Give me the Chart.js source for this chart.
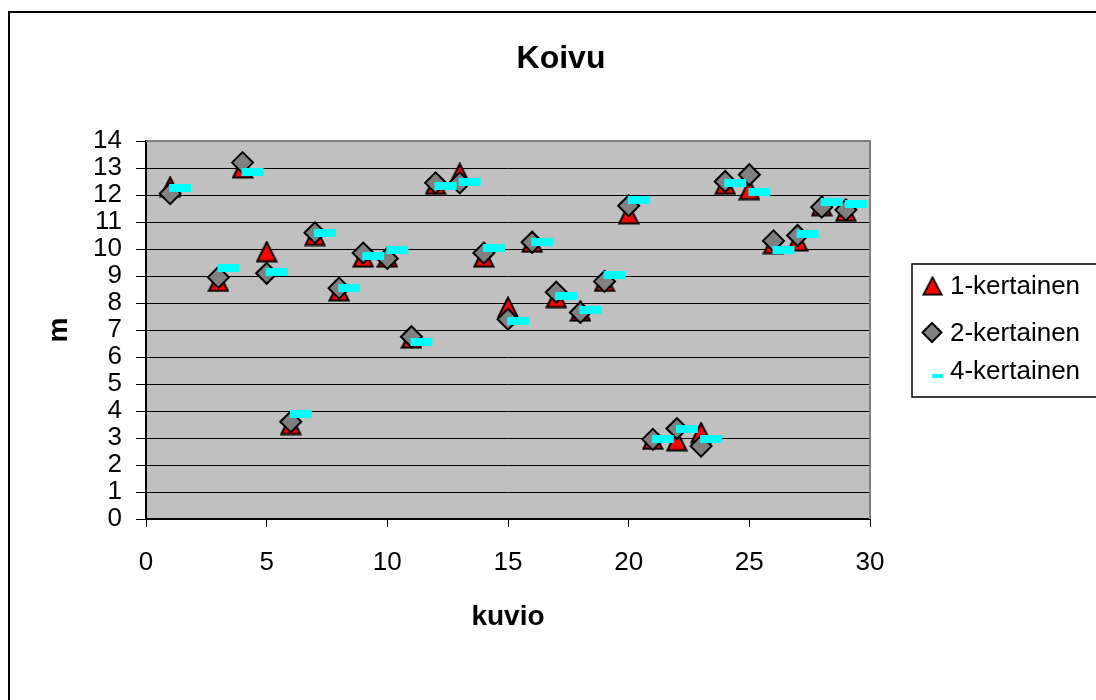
<!DOCTYPE html>
<html>
<head>
<meta charset="utf-8">
<title>Koivu</title>
<script src="https://cdn.jsdelivr.net/npm/chart.js@4.4.1/dist/chart.umd.min.js"></script>
<style>
  body { margin: 0; background: #fff; }
  #wrap { position: relative; width: 1096px; height: 700px; }
</style>
</head>
<body>
<div id="wrap"><canvas id="koivu"></canvas></div>
<script>
// kuvio numbers (x) and heights in metres per series
var kuvio = [1, 3, 4, 5, 6, 7, 8, 9, 10, 11, 12, 13, 14, 15, 16, 17, 18, 19, 20, 21, 22, 23, 24, 25, 26, 27, 28, 29];
var kertainen1 = [12.3, 8.8, 13.0, 9.9, 3.5, 10.5, 8.45, 9.7, 9.7, 6.7, 12.4, 12.8, 9.7, 7.85, 10.25, 8.2, 7.7, 8.8, 11.3, 2.95, 2.9, 3.2, 12.4, 12.2, 10.2, 10.3, 11.6, 11.4];
var kertainen2 = [12.05, 8.95, 13.2, 9.1, 3.6, 10.6, 8.55, 9.85, 9.65, 6.75, 12.45, 12.45, 9.85, 7.4, 10.25, 8.4, 7.65, 8.8, 11.6, 2.95, 3.35, 2.7, 12.5, 12.75, 10.3, 10.5, 11.55, 11.45];
var kertainen4 = [12.25, 9.3, 12.85, 9.15, 3.9, 10.6, 8.55, 9.75, 9.95, 6.55, 12.35, 12.5, 10.05, 7.35, 10.25, 8.25, 7.75, 9.05, 11.8, 2.95, 3.35, 2.95, 12.45, 12.1, 9.95, 10.55, 11.75, 11.65];
var seriesNames = ['1-kertainen', '2-kertainen', '4-kertainen'];
var xTicks = [0, 5, 10, 15, 20, 25, 30];
var yMax = 14;

function toPoints(values) {
  return kuvio.map(function (k, i) { return { x: k, y: values[i] }; });
}

// red triangle marker, bbox centred on the value
function makeTriangle(size) {
  var c = document.createElement('canvas');
  c.width = size; c.height = size;
  var g = c.getContext('2d');
  g.beginPath();
  g.moveTo(size / 2, 1.5);
  g.lineTo(size - 1.5, size - 1.5);
  g.lineTo(1.5, size - 1.5);
  g.closePath();
  g.fillStyle = '#ff0000';
  g.fill();
  g.lineWidth = 2;
  g.strokeStyle = '#000';
  g.stroke();
  return c;
}

// cyan dash, starts at the point and runs to the right (like Excel draws it)
function makeDash() {
  var c = document.createElement('canvas');
  c.width = 46; c.height = 8;
  var g = c.getContext('2d');
  g.fillStyle = '#00ffff';
  g.fillRect(22, 0, 22, 8);
  return c;
}

var triImg = makeTriangle(22);
var dashImg = makeDash();
var FONT = "'Liberation Sans', Arial, sans-serif";

Chart.defaults.font.family = FONT;
Chart.defaults.font.size = 26;
Chart.defaults.color = '#000';

var frame = {
  id: 'frame',
  beforeDraw: function (chart) {
    var ctx = chart.ctx, a = chart.chartArea;
    ctx.save();
    ctx.fillStyle = '#fff';
    ctx.fillRect(0, 0, chart.width, chart.height);
    ctx.lineWidth = 2;
    ctx.strokeStyle = '#000';
    ctx.strokeRect(9, 12, 1200, 800);
    ctx.fillStyle = '#c0c0c0';
    ctx.fillRect(a.left, a.top, a.right - a.left, a.bottom - a.top);
    ctx.restore();
  },
  beforeDatasetsDraw: function (chart) {
    var ctx = chart.ctx, a = chart.chartArea;
    ctx.save();
    ctx.strokeStyle = '#808080';
    ctx.lineWidth = 2;
    ctx.beginPath();
    ctx.moveTo(a.left, a.top);
    ctx.lineTo(a.right, a.top);
    ctx.lineTo(a.right, a.bottom);
    ctx.stroke();
    ctx.restore();
  },
  afterDraw: function (chart) {
    var ctx = chart.ctx, a = chart.chartArea;
    ctx.save();
    ctx.fillStyle = '#000';
    ctx.textAlign = 'center';
    ctx.textBaseline = 'alphabetic';
    ctx.font = 'bold 32px ' + FONT;
    ctx.fillText('Koivu', 561, 68);
    ctx.font = 'bold 28px ' + FONT;
    ctx.fillText('kuvio', (a.left + a.right) / 2, 625);
    ctx.save();
    ctx.translate(67, (a.top + a.bottom) / 2);
    ctx.rotate(-Math.PI / 2);
    ctx.fillText('m', 0, 0);
    ctx.restore();

    // legend box
    ctx.fillStyle = '#fff';
    ctx.fillRect(912, 264, 200, 133);
    ctx.strokeStyle = '#000';
    ctx.lineWidth = 1.5;
    ctx.strokeRect(912, 264, 200, 133);

    ctx.drawImage(triImg, 922, 276, 21, 20);
    ctx.beginPath();
    ctx.moveTo(932, 323); ctx.lineTo(941.5, 332.5); ctx.lineTo(932, 342); ctx.lineTo(922.5, 332.5);
    ctx.closePath();
    ctx.fillStyle = '#808080'; ctx.fill();
    ctx.lineWidth = 2; ctx.strokeStyle = '#000'; ctx.stroke();
    ctx.fillStyle = '#00ffff';
    ctx.fillRect(932, 374, 11, 4);

    ctx.fillStyle = '#000';
    ctx.textAlign = 'left';
    ctx.font = '26px ' + FONT;
    var rows = [294, 341, 379];
    seriesNames.forEach(function (n, i) { ctx.fillText(n, 950, rows[i]); });
    ctx.restore();
  }
};

new Chart('koivu', {
  type: 'scatter',
  data: {
    datasets: [{
      label: seriesNames[0],
      data: toPoints(kertainen1),
      pointStyle: triImg,
      order: 3
    }, {
      label: seriesNames[1],
      data: toPoints(kertainen2),
      pointStyle: 'rectRot',
      pointRadius: 10.5,
      pointHoverRadius: 10.5,
      backgroundColor: '#808080',
      borderColor: '#000',
      borderWidth: 2,
      order: 2
    }, {
      label: seriesNames[2],
      data: toPoints(kertainen4),
      pointStyle: dashImg,
      order: 1
    }]
  },
  options: {
    responsive: true,
    maintainAspectRatio: false,
    animation: false,
    layout: { padding: { left: 80, right: 226, top: 141, bottom: 121 } },
    plugins: {
      legend: { display: false },
      title: { display: false },
      tooltip: { enabled: true }
    },
    scales: {
      x: {
        type: 'linear',
        min: 0,
        max: 30,
        afterFit: function (s) { s.height = 60; },
        afterBuildTicks: function (s) { s.ticks = xTicks.map(function (v) { return { value: v }; }); },
        ticks: { padding: 20, autoSkip: false, maxRotation: 0, font: { size: 26 }, color: '#000' },
        grid: { drawOnChartArea: false, drawTicks: true, tickLength: 8, color: '#000' },
        border: { color: '#000', width: 2 }
      },
      y: {
        min: 0,
        max: yMax,
        afterFit: function (s) { s.width = 66; },
        ticks: { stepSize: 1, autoSkip: false, padding: 14, font: { size: 26 }, color: '#000' },
        grid: { color: '#000', tickLength: 10, tickColor: '#000' },
        border: { color: '#000', width: 2 }
      }
    }
  },
  plugins: [frame]
});
</script>
</body>
</html>
